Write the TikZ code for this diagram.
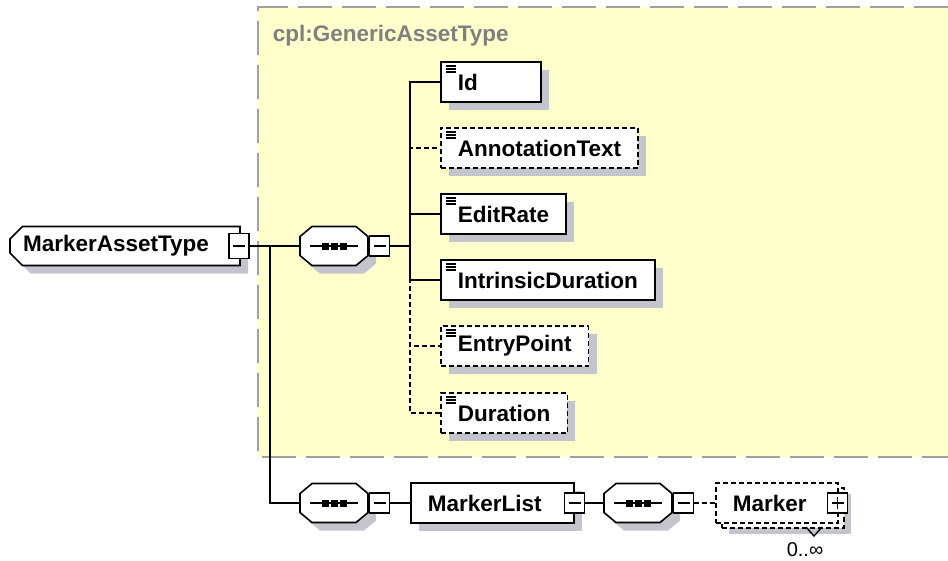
\documentclass[tikz,border=0pt]{standalone}
\usepackage{fontspec}
\setmainfont{Liberation Sans}
\usetikzlibrary{positioning,shapes.misc,shadows}

\definecolor{assetbg}{RGB}{255,255,204}
\definecolor{groupline}{RGB}{160,160,160}
\definecolor{grouptext}{RGB}{128,128,128}
\definecolor{dropgray}{RGB}{196,196,204}

\newcommand{\xsdfont}{\fontsize{22.5}{26}\selectfont\bfseries}

\begin{document}
\begin{tikzpicture}[x=1pt,
            y=-1pt,
            line width=1.6pt,
            font=\xsdfont,
            shadowed/.style={general shadow={fill=dropgray, shadow xshift=8pt, shadow yshift=-8pt}},
            box/.style={rectangle, draw, fill=white, minimum height=40pt,
                        inner xsep=17pt, inner ysep=0pt, anchor=west},
            elem/.style={box, shadowed},
            leaf/.style={elem, path picture={
                \foreach \dy in {4,7,10}
                  \draw[solid, line width=1.2pt]
                    ([shift={(5,\dy)}]path picture bounding box.north west) -- ++(10,0);}},
            optional/.style={dash pattern=on 5pt off 3pt},
            repeated/.style={general shadow={fill=dropgray, shadow xshift=13pt, shadow yshift=-11pt},
                             general shadow={draw, fill=white, optional, shadow xshift=6pt, shadow yshift=-5pt}},
            seq/.style={rectangle, minimum width=68pt, minimum height=39pt, inner sep=0pt},
            root/.style={chamfered rectangle, chamfered rectangle xsep=9pt,
                         chamfered rectangle corners={north west,south west},
                         draw, fill=white, shadowed, minimum width=230pt, minimum height=39pt,
                         inner sep=0pt},
            toggle/.style={rectangle, draw, fill=white, minimum size=20pt, inner sep=0pt},
            minus/.style={toggle, path picture={
                \draw[line width=1.4pt] ([xshift=-6pt]path picture bounding box.center)
                   -- ([xshift=6pt]path picture bounding box.center);}},
            plus/.style={toggle, path picture={
                \draw[line width=1.4pt] ([xshift=-6pt]path picture bounding box.center)
                   -- ([xshift=6pt]path picture bounding box.center);
                \draw[line width=1.4pt] ([yshift=-6pt]path picture bounding box.center)
                   -- ([yshift=6pt]path picture bounding box.center);}},
            elbow/.style={to path={|- (\tikztotarget)}}]

        \useasboundingbox (0,0) rectangle (948,560);

        % inherited group
        \fill[assetbg] (948,7) -- (258,7) -- (258,457) -- (948,457) -- cycle;
        \draw[groupline, dash pattern=on 34pt off 10pt] (948,7) -- (258,7) -- (258,457) -- (948,457);
        \node[text=grouptext, anchor=west, inner sep=0pt] (grouplabel) at (272,36) {cpl:GenericAssetType};

        \node[root]  (mat)   at (125,246) {MarkerAssetType\hspace*{18pt}};
        \node[minus, minimum height=25pt] (mat-m) at ([xshift=-2pt]mat.east) {};

        \node[seq] (seq1) at (334,246) {};
        \node[seq] (seq2) at (334,503) {};
        \node[seq] (seq3) at (638,503) {};

        % sequence compositors
        \foreach \s in {seq1,seq2,seq3} {
            \fill[dropgray] ([shift={(8,8)}]\s.center)
                +(-22,-19.5) -- +(22,-19.5) -- +(34,-9.5) -- +(34,9.5)
             -- +(22,19.5) -- +(-22,19.5) -- +(-34,9.5) -- +(-34,-9.5) -- cycle;
            \filldraw[fill=white] (\s.center)
                +(-22,-19.5) -- +(22,-19.5) -- +(34,-9.5) -- +(34,9.5)
             -- +(22,19.5) -- +(-22,19.5) -- +(-34,9.5) -- +(-34,-9.5) -- cycle;
            \draw (\s.center) +(-24,0) -- +(24,0);
            \foreach \dx in {-9,0,9}
                \fill (\s.center) +(\dx-3.5,-3.5) rectangle +(\dx+3.5,3.5);
        }

        \node[minus] (seq1-m) [right=0pt of seq1] {};

        \node[leaf, text width=66pt, align=left] (id) at (440,82)  {Id};
        \node[leaf, optional]  (annot)     at (440,148) {AnnotationText};
        \node[leaf]            (editrate)  at (440,214) {EditRate};
        \node[leaf]            (intrinsic) at (440,280) {IntrinsicDuration};
        \node[leaf, optional]  (entry)     at (440,346) {EntryPoint};
        \node[leaf, optional]  (dur)       at (440,413) {Duration};

        \node[minus] (seq2-m) [right=0pt of seq2] {};
        \node[elem, text width=129pt, align=left] (mlist) at (410,503) {MarkerList};
        \node[minus] (mlist-m) at (mlist.east) {};
        \node[minus] (seq3-m) [right=0pt of seq3] {};
        \node[box, optional, repeated, text width=88pt, align=left] (marker) at (715,503) {Marker};
        \node[plus]  (marker-p) at ([xshift=-1pt]marker.east) {};

        \draw[line width=1.4pt] (806,527) -- (814,536) -- (822,527);
        \node[font=\fontsize{20}{22}\selectfont] (marker-occurs) at (805,550) {0..∞};

        \coordinate (trunk) at (270,246);
        \coordinate (fork)  at (410,246);

        \path (mat-m)   edge                   (seq1)
              (trunk)   edge [elbow]           (seq2)
              (seq1-m)  edge                   (fork)
              (fork)    edge [elbow]           (id)
                        edge [elbow, optional] (annot)
                        edge [elbow]           (editrate)
                        edge [elbow]           (intrinsic)
                        edge [elbow, optional] (entry)
                        edge [elbow, optional] (dur)
              (seq2-m)  edge                   (mlist)
              (mlist-m) edge                   (seq3)
              (seq3-m)  edge [optional]        (marker);

    \end{tikzpicture}
\end{document}
